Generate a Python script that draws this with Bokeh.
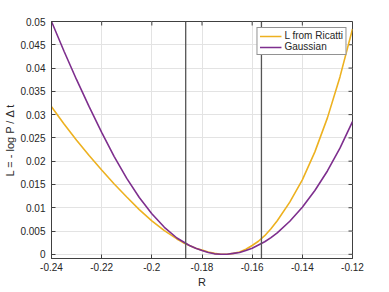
import math
from bokeh.plotting import figure
from bokeh.models import Range1d, FixedTicker, Span, Legend, LegendItem
from bokeh.embed import file_html
from bokeh.resources import INLINE

# ---- data ----
r = [-0.24, -0.235, -0.23, -0.225, -0.22, -0.215, -0.21, -0.205, -0.2, -0.195,
     -0.19, -0.1875, -0.185, -0.1825, -0.18, -0.1775, -0.175, -0.1725, -0.17,
     -0.1675, -0.165, -0.1625, -0.16, -0.1575, -0.155, -0.1525, -0.15, -0.145,
     -0.14, -0.135, -0.13, -0.125, -0.12]
ricatti = [0.0317, 0.0280, 0.0245, 0.0212, 0.0181, 0.0151, 0.0123, 0.0096, 0.0072, 0.0051,
           0.0033, 0.0025, 0.0019, 0.0013, 0.0009, 0.0005, 0.0002, 0.0000, 0.0000,
           0.0002, 0.0005, 0.0011, 0.0019, 0.0028, 0.0040, 0.0055, 0.0072, 0.0112,
           0.0160, 0.0220, 0.0293, 0.0381, 0.0484]
gaussian = [0.0500, 0.0436, 0.0375, 0.0317, 0.0262, 0.0210, 0.0163, 0.0122, 0.0087, 0.0058,
            0.0035, 0.0027, 0.0019, 0.0013, 0.0008, 0.0004, 0.0001, 0.0000, 0.0000,
            0.0002, 0.0004, 0.0008, 0.0013, 0.0020, 0.0027, 0.0036, 0.0046, 0.0071,
            0.0101, 0.0137, 0.0179, 0.0228, 0.0285]
bounds = [-0.1865, -0.1563]
series_names = ["L from Ricatti", "Gaussian"]
x_ticks = [-0.24, -0.22, -0.2, -0.18, -0.16, -0.14, -0.12]
x_tick_labels = ["-0.24", "-0.22", "-0.2", "-0.18", "-0.16", "-0.14", "-0.12"]
y_ticks = [0, 0.005, 0.01, 0.015, 0.02, 0.025, 0.03, 0.035, 0.04, 0.045, 0.05]
y_tick_labels = ["0", "0.005", "0.01", "0.015", "0.02", "0.025", "0.03", "0.035", "0.04", "0.045", "0.05"]
x_label = "R"
y_label = "L = - log P / \u0394 t"

FONT = "Liberation Sans"
TXT = "#262626"
AX = "#404040"
ORANGE = "#EDB120"
PURPLE = "#7E2F8E"

X0, X1 = x_ticks[0], x_ticks[-1]
Y0, Y1 = -0.0009, y_ticks[-1]

p = figure(width=384, height=290, output_backend="svg", toolbar_location=None,
           x_range=Range1d(X0, X1), y_range=Range1d(Y0, Y1),
           min_border_left=51, min_border_right=32, min_border_top=21, min_border_bottom=31)
p.background_fill_color = "white"
p.border_fill_color = "white"
p.outline_line_color = AX
p.outline_line_width = 1

for ax, ticks, labels in ((p.xaxis[0], x_ticks, x_tick_labels), (p.yaxis[0], y_ticks, y_tick_labels)):
    ax.ticker = FixedTicker(ticks=ticks)
    ax.major_label_overrides = {t: l for t, l in zip(ticks, labels)}
    ax.major_tick_in = 4
    ax.major_tick_out = 0
    ax.minor_tick_line_color = None
    ax.axis_line_color = AX
    ax.major_tick_line_color = AX
    ax.major_label_text_font = FONT
    ax.major_label_text_font_size = "10px"
    ax.major_label_text_color = TXT
    ax.axis_label_text_font = FONT
    ax.axis_label_text_font_size = "11px"
    ax.axis_label_text_font_style = "normal"
    ax.axis_label_text_color = TXT

p.xaxis.axis_label = x_label
p.yaxis.axis_label = y_label
p.xaxis.major_label_standoff = 4
p.xaxis.axis_label_standoff = 2
p.yaxis.major_label_standoff = 6
p.yaxis.axis_label_standoff = 1

# mirrored inward ticks on the top and right edges of the box
p.ray(x=x_ticks, y=[Y1] * len(x_ticks), length=4, length_units="screen",
      angle=-math.pi / 2, line_color=AX, line_width=1)
p.ray(x=[X1] * len(y_ticks), y=y_ticks, length=4, length_units="screen",
      angle=math.pi, line_color=AX, line_width=1)

p.xgrid.ticker = FixedTicker(ticks=x_ticks)
p.ygrid.ticker = FixedTicker(ticks=y_ticks)
p.grid.grid_line_color = "#e3e3e3"
p.grid.grid_line_width = 1

r1 = p.line(r, ricatti, line_color=ORANGE, line_width=1.6)
r2 = p.line(r, gaussian, line_color=PURPLE, line_width=1.6)

for b in bounds:
    p.add_layout(Span(location=b, dimension="height", line_color="#555555", line_width=1.3))

legend = Legend(items=[LegendItem(label=series_names[0], renderers=[r1]),
                       LegendItem(label=series_names[1], renderers=[r2])],
                location="top_right")
legend.border_line_color = TXT
legend.border_line_width = 1
legend.background_fill_color = "white"
legend.background_fill_alpha = 1
legend.label_text_font = FONT
legend.label_text_font_size = "10px"
legend.label_text_color = TXT
legend.label_height = 10
legend.glyph_height = 10
legend.glyph_width = 22
legend.label_standoff = 3
legend.spacing = 0
legend.padding = 2
legend.margin = 6
p.add_layout(legend)

open("out.html", "w").write(file_html(p, INLINE))
